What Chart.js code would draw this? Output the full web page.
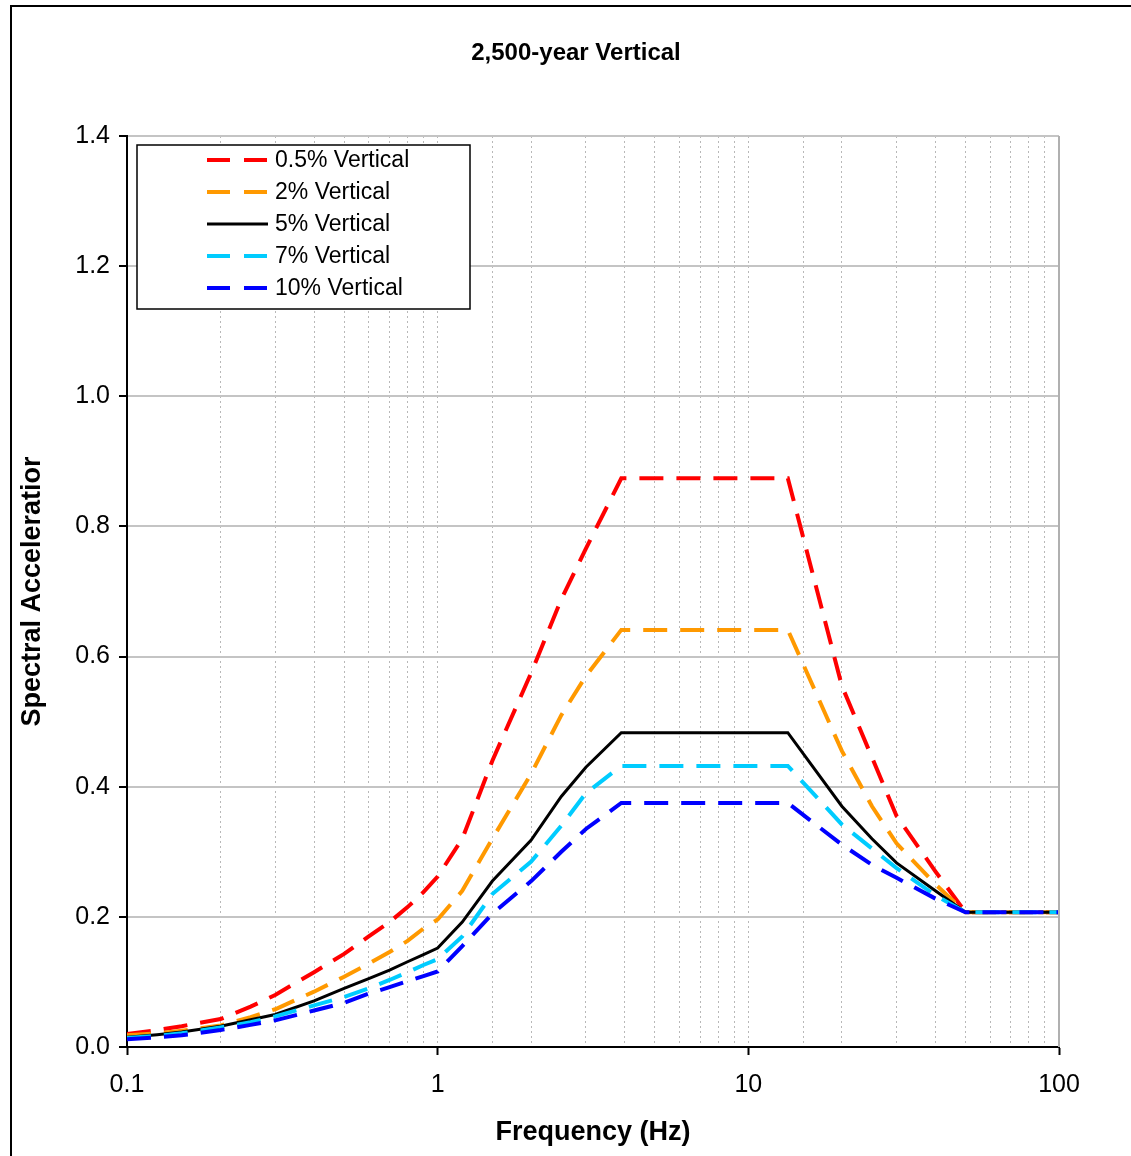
<!DOCTYPE html>
<html>
<head>
<meta charset="utf-8">
<title>2,500-year Vertical</title>
<script src="https://cdn.jsdelivr.net/npm/chart.js@4.4.1/dist/chart.umd.min.js"></script>
<style>
    html, body { margin: 0; padding: 0; background: #fff; }
    #wrap { position: relative; width: 1131px; height: 1156px; }
</style>
</head>
<body>
<div id="wrap"><canvas id="chart" width="1131" height="1156"></canvas></div>
<script>
// Frequencies (Hz) shared by all spectra
const freqs = [0.1, 0.125, 0.15, 0.2, 0.25, 0.3, 0.4, 0.5, 0.6, 0.7, 0.8, 0.9, 1.0,
               1.2, 1.5, 2.0, 2.5, 3.0, 3.9, 13.4, 20, 25, 30, 40, 50, 100];

// Spectral acceleration (g) per damping ratio
const damp05 = [0.020, 0.026, 0.032, 0.043, 0.062, 0.080, 0.115, 0.143, 0.170, 0.192, 0.215, 0.238, 0.262,
                0.320, 0.440, 0.575, 0.688, 0.766, 0.874, 0.874, 0.555, 0.445, 0.355, 0.270, 0.207, 0.207];
const damp2  = [0.018, 0.021, 0.025, 0.033, 0.046, 0.058, 0.085, 0.108, 0.128, 0.146, 0.163, 0.182, 0.196,
                0.240, 0.320, 0.420, 0.510, 0.570, 0.641, 0.641, 0.455, 0.370, 0.313, 0.250, 0.207, 0.207];
const damp5  = [0.015, 0.019, 0.023, 0.032, 0.042, 0.050, 0.071, 0.090, 0.105, 0.118, 0.131, 0.142, 0.152,
                0.192, 0.255, 0.318, 0.385, 0.430, 0.483, 0.483, 0.370, 0.320, 0.283, 0.240, 0.207, 0.207];
const damp7  = [0.014, 0.017, 0.021, 0.030, 0.038, 0.047, 0.064, 0.077, 0.090, 0.103, 0.115, 0.126, 0.135,
                0.170, 0.235, 0.285, 0.340, 0.390, 0.432, 0.432, 0.342, 0.305, 0.275, 0.233, 0.207, 0.207];
const damp10 = [0.012, 0.015, 0.018, 0.026, 0.034, 0.041, 0.056, 0.068, 0.082, 0.092, 0.101, 0.109, 0.116,
                0.155, 0.205, 0.255, 0.300, 0.335, 0.375, 0.375, 0.311, 0.280, 0.260, 0.228, 0.207, 0.207];

const seriesLabels = ['0.5% Vertical', '2% Vertical', '5% Vertical', '7% Vertical', '10% Vertical'];
const seriesColors = ['#ff0000', '#ff9900', '#000000', '#00ccff', '#0000ff'];
const seriesDash = [[24, 13], [24, 13], [], [24, 13], [24, 13]];
const seriesWidth = [4, 4, 3, 4, 4];
const xTickLabels = ['0.1', '1', '10', '100'];
const yTicks = [0, 0.2, 0.4, 0.6, 0.8, 1.0, 1.2, 1.4];
const chartTitle = '2,500-year Vertical';

const FONT = '"Liberation Sans", Arial, sans-serif';

function toPoints(values) {
    return freqs.map(function (f, i) { return { x: f, y: values[i] }; });
}

const allSeries = [damp05, damp2, damp5, damp7, damp10];
const datasets = allSeries.map(function (vals, i) {
    return {
        label: seriesLabels[i],
        data: toPoints(vals),
        borderColor: seriesColors[i],
        backgroundColor: seriesColors[i],
        borderWidth: seriesWidth[i],
        borderDash: seriesDash[i],
        pointRadius: 0,
        tension: 0,
        fill: false,
        order: allSeries.length - i   // last series drawn on top, like the original
    };
});

// Outer frame, title, plot border and the boxed legend
const decorPlugin = {
    id: 'decor',
    afterDraw: function (chart) {
        const ctx = chart.ctx;
        const area = chart.chartArea;
        ctx.save();

        // frame round the whole chart
        ctx.strokeStyle = '#000';
        ctx.lineWidth = 2;
        ctx.beginPath();
        ctx.moveTo(11, 1156);
        ctx.lineTo(11, 6);
        ctx.lineTo(1131, 6);
        ctx.stroke();

        // title
        ctx.fillStyle = '#000';
        ctx.font = 'bold 24px ' + FONT;
        ctx.textAlign = 'center';
        ctx.textBaseline = 'middle';
        ctx.fillText(chartTitle, 576, 53);

        // right edge of plot area
        ctx.strokeStyle = '#b0b0b0';
        ctx.lineWidth = 2;
        ctx.beginPath();
        ctx.moveTo(area.right, area.top);
        ctx.lineTo(area.right, area.bottom);
        ctx.stroke();

        // legend box
        const bx = 137, by = 145, bw = 333, bh = 164;
        ctx.fillStyle = '#fff';
        ctx.fillRect(bx, by, bw, bh);
        ctx.strokeStyle = '#000';
        ctx.lineWidth = 1.5;
        ctx.strokeRect(bx, by, bw, bh);

        ctx.font = '23px ' + FONT;
        ctx.textBaseline = 'middle';
        ctx.textAlign = 'left';
        chart.data.datasets.forEach(function (ds, i) {
            const y = 160 + i * 32;
            ctx.strokeStyle = ds.borderColor;
            ctx.lineWidth = ds.borderWidth;
            ctx.setLineDash(ds.borderDash.length ? [23, 14] : []);
            ctx.beginPath();
            ctx.moveTo(207, y);
            ctx.lineTo(268, y);
            ctx.stroke();
            ctx.setLineDash([]);
            ctx.fillStyle = '#000';
            ctx.fillText(ds.label, 275, y + 1);
        });
        ctx.restore();
    }
};

new Chart(document.getElementById('chart'), {
    type: 'line',
    data: { datasets: datasets },
    options: {
        responsive: false,
        animation: false,
        layout: { padding: { left: 0, right: 72, top: 136, bottom: 0 } },
        plugins: {
            legend: { display: false },
            tooltip: { enabled: false },
            title: { display: false }
        },
        scales: {
            x: {
                type: 'logarithmic',
                min: 0.1,
                max: 100,
                afterFit: function (scale) { scale.height = 109; },
                border: { display: true, color: '#000', width: 2, dash: [2, 3] },
                grid: {
                    color: '#b8b8b8',
                    lineWidth: 1,
                    drawTicks: true,
                    tickLength: 8,
                    tickColor: function (c) {
                        return (c.tick && c.tick.major) ? '#000' : 'rgba(0,0,0,0)';
                    },
                    tickWidth: 2
                },
                ticks: {
                    autoSkip: false,
                    maxRotation: 0,
                    color: '#000',
                    padding: 15,
                    font: { family: FONT, size: 25 },
                    callback: function (value) {
                        const idx = [0.1, 1, 10, 100].findIndex(function (v) {
                            return Math.abs(v - value) / v < 1e-6;
                        });
                        return idx >= 0 ? xTickLabels[idx] : '';
                    }
                },
                title: {
                    display: true,
                    text: 'Frequency (Hz)',
                    color: '#000',
                    font: { family: FONT, size: 27, weight: 'bold' },
                    padding: { top: 0, bottom: 7 }
                }
            },
            y: {
                min: 0,
                max: 1.4,
                afterFit: function (scale) { scale.width = 127; },
                afterBuildTicks: function (scale) {
                    scale.ticks = yTicks.map(function (v) { return { value: v }; });
                },
                border: { display: true, color: '#000', width: 2 },
                grid: {
                    color: '#c4c4c4',
                    lineWidth: 2,
                    tickLength: 8,
                    tickColor: '#000',
                    tickWidth: 2
                },
                ticks: {
                    color: '#000',
                    padding: 9,
                    font: { family: FONT, size: 25 },
                    callback: function (value) { return Number(value).toFixed(1); }
                },
                title: {
                    display: true,
                    text: 'Spectral Acceleratior',
                    color: '#000',
                    font: { family: FONT, size: 27, weight: 'bold' },
                    padding: { top: 16, bottom: 0 }
                }
            }
        }
    },
    plugins: [decorPlugin]
});
</script>
</body>
</html>
